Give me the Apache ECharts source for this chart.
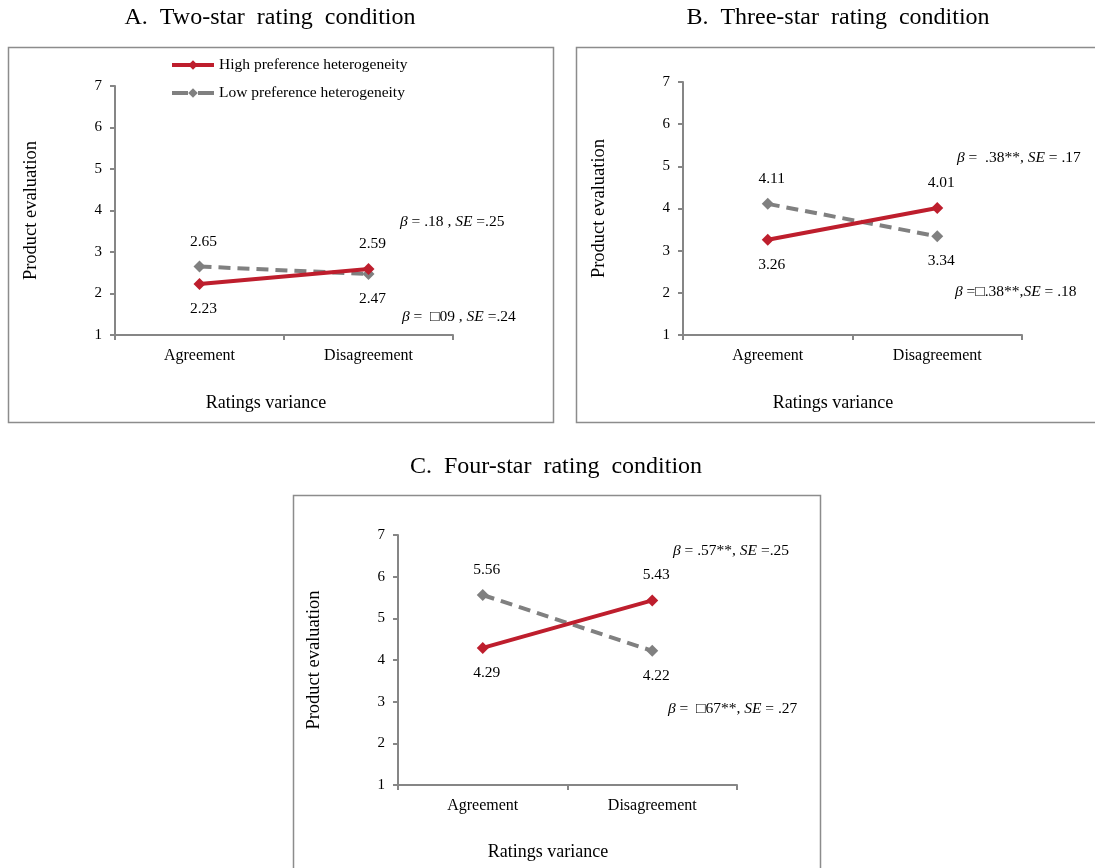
<!DOCTYPE html>
<html>
<head>
<meta charset="utf-8">
<script src="https://cdn.jsdelivr.net/npm/echarts@6/dist/echarts.min.js"></script>
<style>
  html, body { margin: 0; padding: 0; background: #fff; }
  #main { width: 1095px; height: 868px; }
</style>
</head>
<body>
<div id="main"></div>
<script>
var categories = ['Agreement', 'Disagreement'];
var panelTitles = ['A.  Two-star  rating  condition', 'B.  Three-star  rating  condition', 'C.  Four-star  rating  condition'];
var highPref = [[2.23, 2.59], [3.26, 4.01], [4.29, 5.43]];
var lowPref = [[2.65, 2.47], [4.11, 3.34], [5.56, 4.22]];
var betaHigh = [['= .18 , ', '=.25'], ['=  .38**, ', '= .17'], ['= .57**, ', '=.25']];
var betaLow = [['=  \u25A109 , ', '=.24'], ['=\u25A1.38**,', '= .18'], ['=  \u25A167**, ', '= .27']];
var yTicks = [1, 7, 1];

var font = '"Liberation Serif", "Times New Roman", serif';
var red = '#be1e2d';
var gray = '#808080';

// layout of the three panels (box, plot area, notes)
var panels = [
  { box: [8, 47, 545, 375], grid: [115, 86, 338, 249], title: [270, 18], xname: [266, 403],
    notes: [[400, 222], [402, 317]] },
  { box: [576, 47, 530, 375], grid: [683, 82, 339, 253], title: [838, 18], xname: [833, 403],
    notes: [[957, 158], [955, 292]] },
  { box: [293, 495, 527, 380], grid: [398, 535, 339, 250], title: [556, 467], xname: [548, 852],
    notes: [[673, 551], [668, 709]] }
];

var myChart = echarts.init(document.getElementById('main'));

var grids = [], xAxes = [], yAxes = [], series = [], graphics = [];

panels.forEach(function (p, i) {
  grids.push({ left: p.grid[0], top: p.grid[1], width: p.grid[2], height: p.grid[3] });
  xAxes.push({
    type: 'category', gridIndex: i, data: categories, boundaryGap: true,
    axisLine: { lineStyle: { color: '#868686', width: 2 } },
    axisTick: { show: true, length: 5, lineStyle: { color: '#868686', width: 2 } },
    axisLabel: { color: '#000', fontFamily: font, fontSize: 16, margin: 13 }
  });
  yAxes.push({
    type: 'value', gridIndex: i, min: yTicks[0], max: yTicks[1], interval: yTicks[2],
    name: 'Product evaluation', nameLocation: 'middle', nameGap: 74,
    nameTextStyle: { color: '#000', fontFamily: font, fontSize: 18.5 },
    axisLine: { show: true, lineStyle: { color: '#868686', width: 2 } },
    axisTick: { show: true, length: 5, lineStyle: { color: '#868686', width: 2 } },
    splitLine: { show: false },
    axisLabel: { color: '#000', fontFamily: font, fontSize: 15, margin: 13 }
  });

  var labelStyle = { show: true, color: '#000', fontFamily: font, fontSize: 15.5, distance: 11, offset: [4, 0] };
  series.push({
    name: 'High preference heterogeneity', type: 'line', xAxisIndex: i, yAxisIndex: i,
    symbol: 'diamond', symbolSize: 12, z: 3,
    lineStyle: { color: red, width: 4 }, itemStyle: { color: red },
    data: highPref[i].map(function (v, j) {
      return { value: v, label: Object.assign({}, labelStyle, { position: j === 0 ? 'bottom' : 'top' }) };
    })
  });
  series.push({
    name: 'Low preference heterogeneity', type: 'line', xAxisIndex: i, yAxisIndex: i,
    symbol: 'diamond', symbolSize: 12, z: 2,
    lineStyle: { color: gray, width: 4, type: [12, 7] }, itemStyle: { color: gray },
    data: lowPref[i].map(function (v, j) {
      return { value: v, label: Object.assign({}, labelStyle, { position: j === 0 ? 'top' : 'bottom' }) };
    })
  });

  graphics.push({
    type: 'rect', shape: { x: p.box[0] + 0.5, y: p.box[1] + 0.5, width: p.box[2], height: p.box[3] },
    style: { fill: 'none', stroke: '#8c8c8c', lineWidth: 1.5 }, z: -1
  });
  graphics.push({
    type: 'text', x: p.title[0], y: p.title[1],
    style: { text: panelTitles[i], fill: '#000', font: '24px ' + font, textAlign: 'center', textVerticalAlign: 'middle' }
  });
  graphics.push({
    type: 'text', x: p.xname[0], y: p.xname[1],
    style: { text: 'Ratings variance', fill: '#000', font: '18px ' + font, textAlign: 'center', textVerticalAlign: 'middle' }
  });
  [betaHigh[i], betaLow[i]].forEach(function (b, k) {
    graphics.push({
      type: 'text', x: p.notes[k][0], y: p.notes[k][1],
      style: {
        text: '{i|\u03B2} ' + b[0] + '{i|SE} ' + b[1],
        fill: '#000', font: '15.5px ' + font, textVerticalAlign: 'middle',
        rich: { i: { fontStyle: 'italic', fontFamily: font, fontSize: 15.5 } }
      }
    });
  });
});

var option = {
  animation: false,
  backgroundColor: '#fff',
  legend: {
    orient: 'vertical', left: 165, top: 52, itemWidth: 42, itemHeight: 12, itemGap: 12,
    textStyle: { color: '#000', fontFamily: font, fontSize: 15.5 },
    data: [
      { name: 'High preference heterogeneity', lineStyle: { width: 4 } },
      { name: 'Low preference heterogeneity', lineStyle: { width: 4, type: [16, 10] } }
    ]
  },
  grid: grids,
  xAxis: xAxes,
  yAxis: yAxes,
  series: series,
  graphic: graphics
};

myChart.setOption(option);
</script>
</body>
</html>
